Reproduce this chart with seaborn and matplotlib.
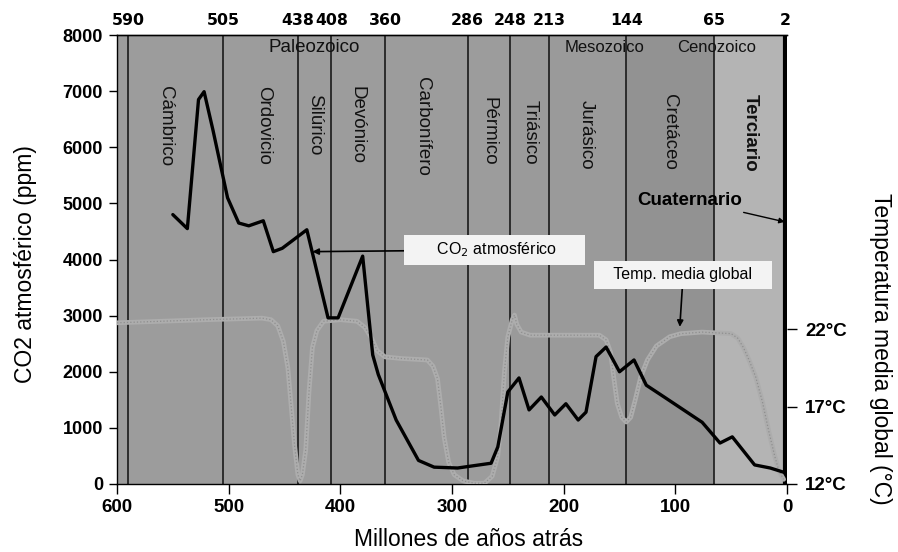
import numpy as np
import pandas as pd
import matplotlib
matplotlib.use('Agg')
import matplotlib.pyplot as plt
import seaborn as sns

# CO2 (ppm) vs millones de años
co2_edad = [550, 537, 527, 522, 514, 501, 491, 482, 469, 460, 452, 430, 411, 402, 380,
            371, 366, 350, 330, 316, 295, 265, 259, 250, 240, 231, 220, 208, 198, 187,
            180, 171, 162, 150, 137, 126, 110, 76, 60, 49, 29, 15, 3]
co2_ppm = [4800, 4550, 6850, 6990, 6300, 5100, 4650, 4600, 4690, 4140, 4200, 4530, 2960, 2960, 4060,
           2300, 1950, 1140, 420, 300, 285, 370, 660, 1640, 1890, 1320, 1550, 1230, 1430, 1140,
           1280, 2270, 2440, 2000, 2210, 1760, 1550, 1100, 730, 840, 340, 285, 210]

# temperatura media global (°C)
temp_edad = [600, 560, 520, 470, 462, 456, 451, 447, 444, 441, 438, 436, 434, 431, 428,
             425, 421, 415, 400, 385, 378, 372, 367, 360, 346, 322, 317, 313, 310, 307,
             303, 298, 290, 280, 271, 264, 259, 256, 253, 250, 246, 244, 242, 238, 230,
             211, 168, 162, 158, 155, 152, 148, 144, 140, 136, 131, 125, 117, 105, 95,
             76, 50, 44, 39, 34, 28, 22, 16, 11, 7, 3]
temp_c = [22.4, 22.5, 22.6, 22.7, 22.6, 22.2, 21.2, 19.5, 17.0, 14.5, 12.6, 12.2, 12.6, 14.2, 18.0,
          20.8, 21.9, 22.5, 22.6, 22.5, 22.1, 21.4, 20.6, 20.2, 20.1, 20.0, 19.6, 18.8, 17.0, 15.0,
          13.4, 12.6, 12.2, 12.05, 12.05, 12.5, 13.8, 16.0, 19.3, 21.5, 22.6, 22.9, 22.3, 21.8, 21.6,
          21.6, 21.6, 21.3, 20.5, 18.8, 17.2, 16.3, 16.0, 16.3, 17.4, 18.9, 20.0, 20.9, 21.5, 21.7,
          21.8, 21.7, 21.4, 20.8, 20.0, 18.9, 17.3, 15.3, 13.8, 12.8, 12.3]

limites = [590, 505, 438, 408, 360, 286, 248, 213, 144, 65, 2]
limites_txt = ['590', '505', '438', '408', '360', '286', '248', '213', '144', '65', '2']

periodos = ['Cámbrico', 'Ordovicio', 'Silúrico', 'Devónico', 'Carbonífero', 'Pérmico',
            'Triásico', 'Jurásico', 'Cretáceo', 'Terciario']
periodos_x = [557, 469, 423, 385, 326, 267, 230, 180, 105, 33]
periodos_y = [7100, 7100, 6950, 7100, 7250, 6900, 6850, 6850, 6950, 6950]

eras = ['Paleozoico', 'Mesozoico', 'Cenozoico']
eras_x = [423, 163, 63]

sns.set_style('ticks')
plt.rcParams['font.family'] = ['Liberation Sans', 'DejaVu Sans']
plt.rcParams['text.color'] = 'black'
plt.rcParams['axes.labelcolor'] = 'black'
plt.rcParams['xtick.color'] = 'black'
plt.rcParams['ytick.color'] = 'black'

fig = plt.figure(figsize=(8.98, 5.52), dpi=100)
ax = fig.add_axes([117/898, 1 - 484/552, (787 - 117)/898, (484 - 35)/552])

# fondos por era
ax.axvspan(600, 248, color='#9c9c9c', lw=0, zorder=0)
ax.axvspan(248, 144, color='#9a9a9a', lw=0, zorder=0)
ax.axvspan(144, 65, color='#929292', lw=0, zorder=0)
ax.axvspan(65, 0, color='#b4b4b4', lw=0, zorder=0)
for b in limites[:-1]:
    ax.axvline(b, color='#1a1a1a', lw=1.2, zorder=1)
ax.axvline(1.5, color='black', lw=3, zorder=5)

ax.set_xlim(600, 0)
ax.set_ylim(0, 8000)

# eje de temperatura (derecha)
ax2 = ax.twinx()
ax2.set_ylim(12, 12 + 449/15.5)
sns.lineplot(x=temp_edad, y=temp_c, ax=ax2, color='#adadad', lw=3.4, sort=False)
sns.lineplot(x=temp_edad, y=temp_c, ax=ax2, color='#8e8e8e', lw=0.9, ls=':', sort=False)
ax2.set_xlim(600, 0)

# tercera capa para el CO2 y las etiquetas, encima de todo
ax3 = ax.twinx()
ax3.set_ylim(0, 8000)
ax3.set_xlim(600, 0)
ax3.axis('off')
sns.lineplot(x=co2_edad, y=co2_ppm, ax=ax3, color='black', lw=2.4, sort=False)

ax.set_xticks([600, 500, 400, 300, 200, 100, 0])
ax.set_yticks(range(0, 8001, 1000))
ax.tick_params(axis='x', labelsize=13.5, length=7, width=1, pad=4)
ax.tick_params(axis='y', labelsize=13, length=6, width=1, pad=4)
for t in ax.get_xticklabels() + ax.get_yticklabels():
    t.set_fontweight('bold')

ax2.set_yticks([12, 17, 22])
ax2.set_yticklabels(['12°C', '17°C', '22°C'], fontweight='bold')
ax2.tick_params(axis='y', labelsize=13.5, length=7, width=1, pad=6)

top = ax.secondary_xaxis('top')
top.set_xticks(limites)
top.set_xticklabels(limites_txt, fontweight='bold', family='DejaVu Sans')
top.tick_params(length=0, labelsize=11.3, pad=5)

for s in ['left', 'bottom', 'top']:
    ax.spines[s].set_color('black')
    ax.spines[s].set_linewidth(1)
ax.spines['right'].set_visible(False)
for s in ax2.spines.values():
    s.set_visible(False)
top.spines['top'].set_linewidth(1)

ax.set_xlabel('Millones de años atrás', fontsize=16.5)
ax.set_ylabel('CO2 atmosférico (ppm)', fontsize=16.5)
ax2.set_ylabel('Temperatura media global (°C)', fontsize=16.5, rotation=-90, va='center')
ax.xaxis.set_label_coords(0.525, -0.098)
ax.yaxis.set_label_coords(-0.12, 0.49)
ax2.yaxis.set_label_coords(1.139, 0.30)

for nombre, x, y in zip(periodos, periodos_x, periodos_y):
    peso = 'bold' if nombre == 'Terciario' else 'normal'
    ax3.text(x, y, nombre, rotation=-90, ha='center', va='top', fontsize=13.5,
             fontweight=peso, color='#111111')
for nombre, x in zip(eras, eras_x):
    tam = 13.5 if nombre == 'Paleozoico' else 12
    ax3.text(x, 7780, nombre, ha='center', va='center', fontsize=tam, color='#111111')

ax3.annotate('Cuaternario', xy=(2, 4670), xytext=(87, 5060), ha='center', va='center',
             fontsize=13.5, fontweight='bold',
             arrowprops=dict(arrowstyle='-|>', color='black', lw=1, mutation_scale=8,
                             shrinkA=2, shrinkB=0))
ax3.annotate('      CO$_2$ atmosférico      ', xy=(425, 4140), xytext=(262, 4170),
             ha='center', va='center', fontsize=11.5,
             bbox=dict(boxstyle='square,pad=0.35', fc='#f3f3f3', ec='none'),
             arrowprops=dict(arrowstyle='-|>', color='black', lw=1.2, mutation_scale=9,
                             shrinkA=0, shrinkB=0))
ax3.annotate('   Temp. media global   ', xy=(96, 2800), xytext=(93, 3725),
             ha='center', va='center', fontsize=11.5,
             bbox=dict(boxstyle='square,pad=0.4', fc='#f3f3f3', ec='none'),
             arrowprops=dict(arrowstyle='-|>', color='black', lw=1.2, mutation_scale=9,
                             shrinkA=0, shrinkB=0))

fig.savefig('out.png', dpi=100)
